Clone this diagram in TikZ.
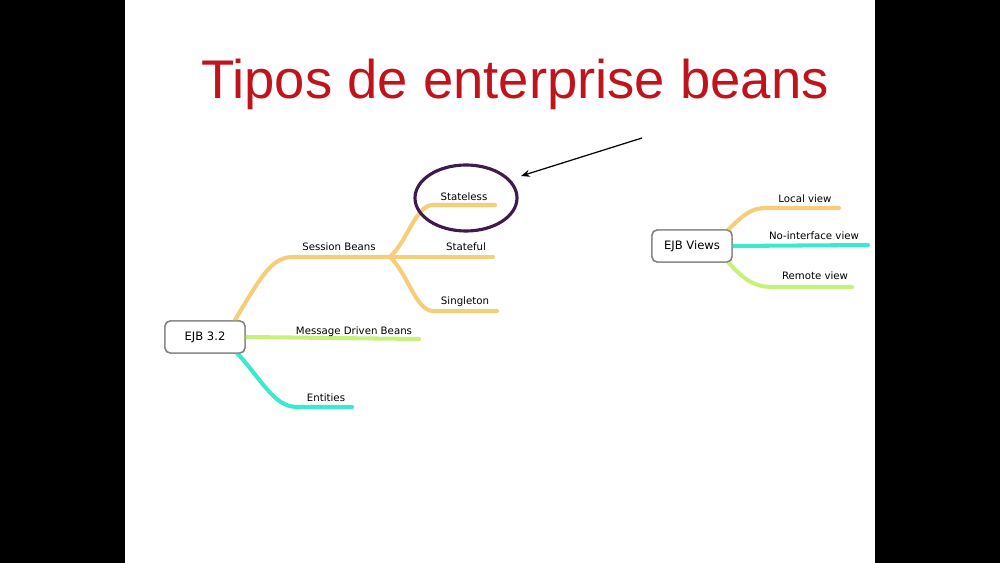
\documentclass[tikz,border=0pt]{standalone}
\usepackage{fontspec}
\setmainfont{DejaVu Sans}
\newfontfamily\titlefont{Liberation Sans}
\usepackage{tikz}
\usetikzlibrary{arrows.meta}
\definecolor{BranchY}{HTML}{F6CD78}
\definecolor{BranchG}{HTML}{C6F27C}
\definecolor{BranchC}{HTML}{3CE8CE}
\definecolor{RingP}{HTML}{3E1A4E}
\definecolor{TitleR}{HTML}{C0141C}
\tikzset{
	MyPix/.style={x=0.02cm,y=-0.02cm},
	MyBox/.style={draw=black!50,line width=0.8pt,rounded corners=3pt,fill=white,
    minimum width=1.6cm,minimum height=0.64cm,font=\fontsize{6.6}{7}\selectfont},
	MyLabel/.style={font=\fontsize{5.8}{6.5}\selectfont,inner sep=1pt,anchor=base},
	MyBranch/.style={line width=2.3pt,line cap=round}
		}
\begin{document}
\begin{tikzpicture}[MyPix]
	\fill[black] (0,0) rectangle (1000,563);
	\fill[white] (125,0) rectangle (875,563);
	\node[text=TitleR,font=\titlefont\fontsize{31}{36}\selectfont,anchor=base]
    (title) at (515,99) {Tipos de enterprise beans};

	\node[MyBox] (ejb) at (205,337) {EJB 3.2};
	\node[MyBox] (views) at (692,246) {EJB Views};

	% end points of the branches
	\coordinate (sbA) at (235,320);
	\coordinate (sbB) at (293,257);
	\coordinate (sbC) at (390,257);
	\coordinate (slB) at (433,205);
	\coordinate (slC) at (495,205);
	\coordinate (sfC) at (493,257);
	\coordinate (sgB) at (433,311);
	\coordinate (sgC) at (497,311);
	\coordinate (mdC) at (419,339);
	\coordinate (enA) at (237,353);
	\coordinate (enB) at (297,407);
	\coordinate (enC) at (352,407);
	\coordinate (lvA) at (727,231);
	\coordinate (lvB) at (767,208);
	\coordinate (lvC) at (839,208);
	\coordinate (nvC) at (868,245);
	\coordinate (rvA) at (727,261);
	\coordinate (rvB) at (773,287);
	\coordinate (rvC) at (852,287);

	\draw[MyBranch,BranchY] (sbA) .. controls (262,275) and (272,257) .. (sbB) -- (sbC);
	\draw[MyBranch,BranchY] (sbC) .. controls (408,240) and (416,205) .. (slB) -- (slC);
	\draw[MyBranch,BranchY] (sbC) -- (sfC);
	\draw[MyBranch,BranchY] (sbC) .. controls (408,274) and (416,311) .. (sgB) -- (sgC);
	\draw[MyBranch,BranchG] (ejb.east) -- (mdC);
	\draw[MyBranch,BranchC] (enA) .. controls (262,380) and (274,407) .. (enB) -- (enC);
	\draw[MyBranch,BranchY] (lvA) .. controls (745,213) and (752,208) .. (lvB) -- (lvC);
	\draw[MyBranch,BranchC] (views.east) -- (nvC);
	\draw[MyBranch,BranchG] (rvA) .. controls (745,281) and (755,287) .. (rvB) -- (rvC);

	% boxes drawn again over the branch ends
	\node[MyBox] at (ejb) {EJB 3.2};
	\node[MyBox] at (views) {EJB Views};

	\node[MyLabel] (sb) at (339,251) {Session Beans};
	\node[MyLabel] (sl) at (464,201) {Stateless};
	\node[MyLabel] (sf) at (466,251) {Stateful};
	\node[MyLabel] (sg) at (465,305) {Singleton};
	\node[MyLabel] (md) at (354,335) {Message Driven Beans};
	\node[MyLabel] (en) at (326,402) {Entities};
	\node[MyLabel] (lv) at (805,203) {Local view};
	\node[MyLabel] (nv) at (814,240) {No-interface view};
	\node[MyLabel] (rv) at (815,280) {Remote view};

	\draw[RingP,line width=1.8pt] (466,198) ellipse [x radius=51,y radius=33];
	\coordinate (arrowTail) at (642,138);
	\draw[-{Stealth[length=5pt,width=4pt]},line width=0.7pt] (arrowTail) -- (521,176);
\end{tikzpicture}
\end{document}
